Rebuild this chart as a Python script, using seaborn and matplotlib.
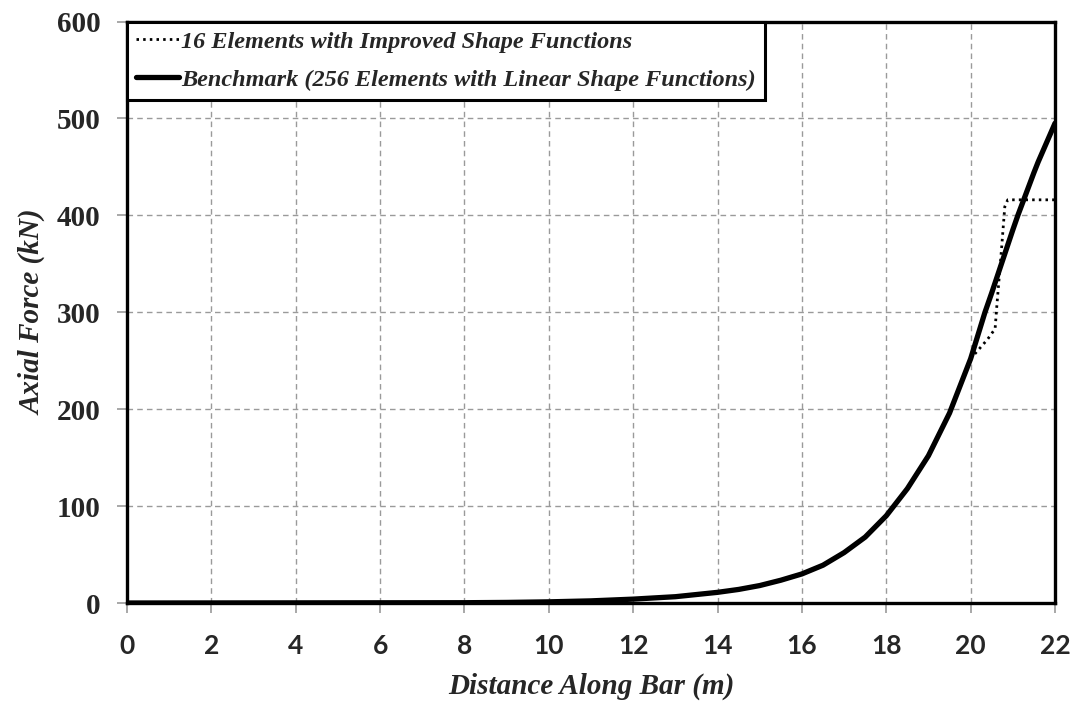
import matplotlib
matplotlib.use("Agg")
import matplotlib.pyplot as plt
import seaborn as sns
import pandas as pd
from matplotlib.lines import Line2D

# ---- data ----
bench_x = [0, 8, 9, 10, 11, 12, 13, 14, 14.5, 15, 15.5, 16, 16.5, 17, 17.5,
           18, 18.5, 19, 19.5, 20, 20.34, 20.5, 21, 21.12, 21.5, 21.6, 22]
bench_y = [0, 0.3, 0.6, 1.2, 2.2, 4, 6.5, 11, 14, 18, 23.5, 30, 39, 52, 68,
           90, 118, 152, 196, 252, 300, 320, 385, 400, 444, 455, 495]

impr_x = [0, 8, 9, 10, 11, 12, 13, 14, 14.5, 15, 15.5, 16, 16.5, 17, 17.5,
          18, 18.5, 19, 19.5, 20, 20.14, 20.4, 20.58, 20.62, 20.73, 20.81,
          20.88, 22]
impr_y = [0, 0.3, 0.6, 1.2, 2.2, 4, 6.5, 11, 14, 18, 23.5, 30, 39, 52, 68,
          90, 118, 152, 196, 252, 259, 272, 283, 306, 364, 409, 416, 416]

x_ticks = [0, 2, 4, 6, 8, 10, 12, 14, 16, 18, 20, 22]
y_ticks = [0, 100, 200, 300, 400, 500, 600]

label_impr = "16 Elements with Improved Shape Functions"
label_bench = "Benchmark (256 Elements with Linear Shape Functions)"
x_title = "Distance Along Bar (m)"
y_title = "Axial Force (kN)"

df_b = pd.DataFrame({"x": bench_x, "y": bench_y})
df_i = pd.DataFrame({"x": impr_x, "y": impr_y})

sns.set_theme(style="white")
plt.rcParams["font.family"] = ["Liberation Serif", "DejaVu Serif"]

fig = plt.figure(figsize=(10.8, 7.02), dpi=100)
ax = fig.add_axes([127 / 1080, 1 - 603 / 702, (1055 - 127) / 1080, (603 - 21.5) / 702])

dot_style = (0, (0.9, 1.5))
sns.lineplot(data=df_i, x="x", y="y", ax=ax, color="black", linewidth=2.0,
             linestyle=dot_style, estimator=None, sort=False, zorder=3)
sns.lineplot(data=df_b, x="x", y="y", ax=ax, color="black", linewidth=3.8,
             estimator=None, sort=False, zorder=4)

ax.set_xlim(0, 22)
ax.set_ylim(0, 600)
ax.set_xticks(x_ticks)
ax.set_yticks(y_ticks)
ax.set_xticklabels([str(t) for t in x_ticks], fontfamily="Lato",
                   fontweight="bold", fontsize=19)
ax.set_yticklabels([str(t) for t in y_ticks], fontfamily="Liberation Serif",
                   fontweight="bold", fontsize=21)
ax.tick_params(axis="both", which="major", direction="out", length=7,
               width=1.2, color="#999999", bottom=True, left=True)
ax.tick_params(axis="x", pad=15)
ax.tick_params(axis="y", pad=12)

ax.grid(True, color="#9a9a9a", linestyle=(0, (4, 3)), linewidth=1.0)
ax.set_axisbelow(True)

for s in ax.spines.values():
    s.set_visible(True)
    s.set_color("black")
    s.set_linewidth(2.4)

ax.set_xlabel(x_title, fontfamily="Liberation Serif", fontstyle="italic",
              fontweight="bold", fontsize=21, labelpad=11)
ax.set_ylabel(y_title, fontfamily="Liberation Serif", fontstyle="italic",
              fontweight="bold", fontsize=21, labelpad=7)

handles = [Line2D([], [], color="black", linewidth=2.0, linestyle=dot_style),
           Line2D([], [], color="black", linewidth=3.8)]
leg = ax.legend(handles, [label_impr, label_bench], loc="upper left",
                bbox_to_anchor=(0, 1), borderaxespad=0, frameon=True,
                fancybox=False, framealpha=1, edgecolor="black",
                borderpad=0.38, handlelength=1.75, handletextpad=0.1,
                labelspacing=0.65,
                prop={"family": "Liberation Serif", "style": "italic",
                      "weight": "bold", "size": 17.5})
leg.get_frame().set_linewidth(2.2)

fig.savefig("out.png", dpi=100)
